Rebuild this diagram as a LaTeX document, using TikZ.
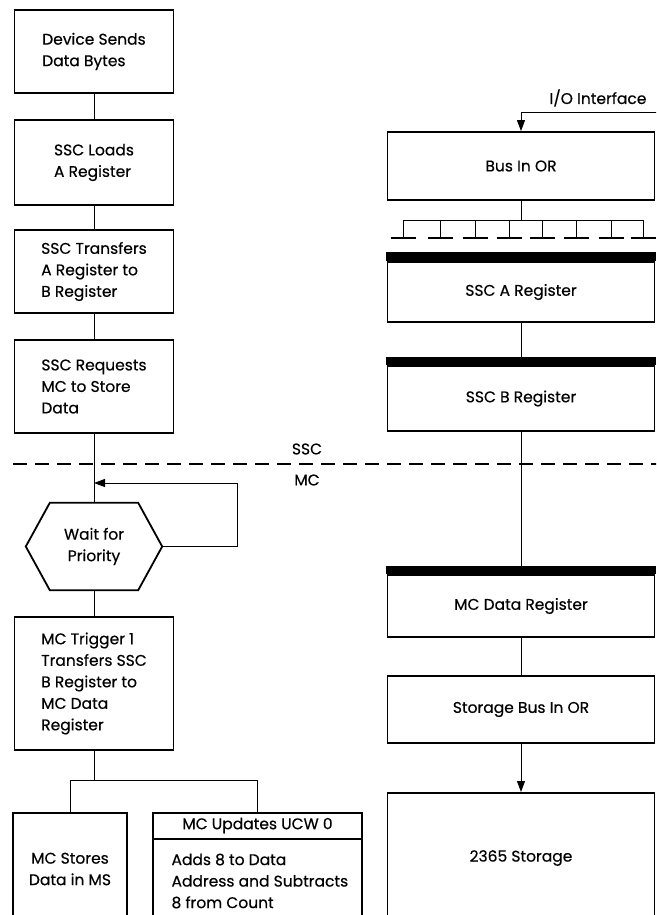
\documentclass[tikz,border=0pt]{standalone}
\usepackage{fontspec}
\setmainfont{Poppins}[FakeBold=0.4]
\usetikzlibrary{arrows.meta}
\begin{document}
\begin{tikzpicture}[x=1pt,y=-1pt,
  box/.style={draw, line width=1.8pt, inner sep=0pt, minimum width=159pt},
  rbox/.style={draw, line width=1.8pt, inner sep=0pt, minimum width=267pt},
  txt/.style={font=\fontsize{15.5}{21.5}\selectfont},
  conn/.style={line width=1pt},
  arr/.style={line width=1pt, -{Triangle[length=11pt,width=8pt]}},
  bar/.style={fill=black},
  divider/.style={line width=2.6pt, dash pattern=on 14pt off 8pt},
  foot/.style={line width=2.4pt}]
\clip (0,0) rectangle (656,915);
\fill[white] (0,0) rectangle (656,915);
% left column
\node[box, txt, align=left, minimum height=83pt] (b1) at (94,51.5) {Device Sends\\Data Bytes};
\node[box, txt, align=left, minimum height=85pt] (b2) at (94,162.5) {SSC Loads\\A Register};
\node[box, txt, align=left, minimum height=83pt] (b3) at (94,271.5) {SSC Transfers\\A Register to\\B Register};
\node[box, txt, align=left, minimum height=93pt] (b4) at (94,386.5) {SSC Requests\\MC to Store\\Data};
\node[txt, align=center, inner sep=0pt, minimum width=136pt, minimum height=87pt] (hex) at (94,546.5) {Wait for\\Priority};
\draw[line width=1.8pt] (hex.west) -- ([xshift=24pt]hex.north west) -- ([xshift=-24pt]hex.north east) -- (hex.east) -- ([xshift=-24pt]hex.south east) -- ([xshift=24pt]hex.south west) -- cycle;
\node[box, txt, align=left, minimum height=133pt] (trig) at (94,683.5) {MC Trigger 1\\Transfers SSC\\B Register to\\MC Data\\Register};
\node[draw, line width=1.8pt, inner sep=0pt, minimum width=114pt, minimum height=140pt, anchor=north] (bl) at (70,812) {};
\node[txt, align=center] (bltxt) at (70,869) {MC Stores\\Data in MS};
\node[draw, line width=1.8pt, inner sep=0pt, minimum width=209pt, minimum height=140pt, anchor=north] (br) at (257.5,812) {};
\draw[line width=1.2pt] ([yshift=-27pt]br.north west) -- ([yshift=-27pt]br.north east);
\node[txt] (brhead) at (257.5,825.5) {MC Updates UCW 0};
\node[txt, align=left, anchor=west] (brtxt) at (168,881) {Adds 8 to Data\\Address and Subtracts\\8 from Count};
% left connectors
\draw[conn] (b1) -- (b2);
\draw[conn] (b2) -- (b3);
\draw[conn] (b3) -- (b4);
\draw[conn] (b4) -- (hex);
\coordinate (j) at (94,483);
\draw[arr] (hex.east) -- ++(75,0) |- (j);
\draw[conn] (trig) -- (hex);
\coordinate (fork) at (94,780);
\draw[conn] (trig.south) -- (fork);
\draw[conn] (fork) -| (bl.north);
\draw[conn] (fork) -| (br.north);
% divider
\draw[divider] (13,464) -- (660,464);
\node[txt] (ssc) at (307,449) {SSC};
\node[txt] (mc) at (307,480) {MC};
% right column
\node[txt] (io) at (598,98) {I/O Interface};
\coordinate (ioin) at (660,113);
\node[rbox, txt, minimum height=68pt] (busin) at (521,166) {Bus In OR};
\draw[arr] (ioin) -| (busin.north);
\coordinate (bt) at (521,220);
\draw[conn] (busin.south) -- (bt);
\draw[conn] (403,220) -- (643,220);
\foreach \x in {403,440,475,509,542,576,611,643} {
  \draw[conn] (\x,220) -- (\x,238);
  \draw[foot] (\x-12.5,238) -- (\x+12.5,238);
}
\node[rbox, txt, minimum height=60pt] (rega) at (521,292) {SSC A Register};
\fill[bar] ([xshift=-0.9pt]rega.north west) rectangle ([xshift=0.9pt,yshift=9pt]rega.north east);
\node[rbox, txt, minimum height=65pt] (regb) at (521,398.5) {SSC B Register};
\fill[bar] ([xshift=-0.9pt]regb.north west) rectangle ([xshift=0.9pt,yshift=8pt]regb.north east);
\node[rbox, txt, minimum height=62pt] (mcd) at (521,606) {MC Data Register};
\fill[bar] ([xshift=-0.9pt]mcd.north west) rectangle ([xshift=0.9pt,yshift=8pt]mcd.north east);
\node[rbox, txt, minimum height=67pt] (sbus) at (521,709.5) {Storage Bus In OR};
\node[draw, line width=1.8pt, inner sep=0pt, minimum width=267pt, minimum height=140pt, anchor=north] (stor) at (521,792) {};
\node[txt] (stortxt) at (521,858) {2365 Storage};
\draw[conn] (rega) -- (regb);
\draw[conn] (regb) -- (mcd);
\draw[conn] (mcd) -- (sbus);
\draw[arr] (sbus) -- (stor);
\end{tikzpicture}
\end{document}
